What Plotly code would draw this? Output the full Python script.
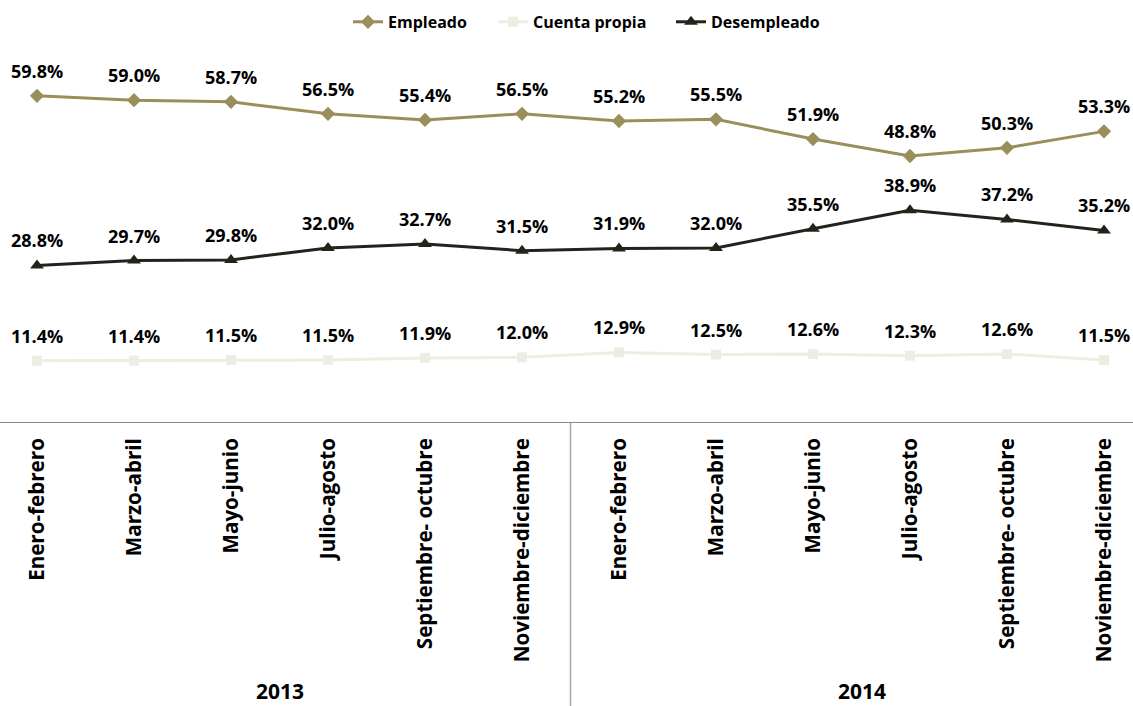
import plotly.graph_objects as go

categories = ["Enero-febrero", "Marzo-abril", "Mayo-junio", "Julio-agosto",
              "Septiembre- octubre", "Noviembre-diciembre",
              "Enero-febrero", "Marzo-abril", "Mayo-junio", "Julio-agosto",
              "Septiembre- octubre", "Noviembre-diciembre"]
years = ["2013", "2014"]
year_centers = [2.5, 8.5]
empleado = [59.8, 59.0, 58.7, 56.5, 55.4, 56.5, 55.2, 55.5, 51.9, 48.8, 50.3, 53.3]
cuenta_propia = [11.4, 11.4, 11.5, 11.5, 11.9, 12.0, 12.9, 12.5, 12.6, 12.3, 12.6, 11.5]
desempleado = [28.8, 29.7, 29.8, 32.0, 32.7, 31.5, 31.9, 32.0, 35.5, 38.9, 37.2, 35.2]

FONT = "Open Sans"
x = list(range(len(categories)))

series = [
    ("Empleado", empleado, "#9A8F5B", "diamond", 11, "legend", 348),
    ("Cuenta propia", cuenta_propia, "#EEEDE2", "square", 10, "legend2", 493),
    ("Desempleado", desempleado, "#24221A", "triangle-up", 12, "legend3", 671),
]

fig = go.Figure()
legends = {}
for name, vals, color, sym, size, leg, lx in series:
    fig.add_trace(go.Scatter(
        x=x, y=vals, name=name, mode="lines+markers",
        line=dict(color=color, width=3),
        marker=dict(symbol=sym, size=size, color=color),
        legend=leg,
    ))
    legends[leg] = dict(orientation="h", x=lx / 1133, xanchor="left", y=0.969,
                        yanchor="middle", yref="container",
                        font=dict(family=FONT, size=16, color="#000", weight="bold"))

annotations = []
for name, vals, color, sym, size, leg, lx in series:
    for xi, v in zip(x, vals):
        annotations.append(dict(
            x=xi, y=v, xref="x", yref="y", text=f"{v:.1f}%",
            showarrow=False, yshift=25,
            font=dict(family=FONT, size=18, color="#000000", weight="bold"),
        ))
for yc, yr in zip(year_centers, years):
    annotations.append(dict(x=yc, y=-0.70, xref="x", yref="paper", yanchor="middle",
                            text=yr, showarrow=False, borderpad=0,
                            font=dict(family=FONT, size=21, color="#000", weight="bold")))

fig.update_layout(
    width=1133, height=706,
    margin=dict(l=0, r=0, t=40, b=283, autoexpand=False),
    paper_bgcolor="white", plot_bgcolor="white",
    showlegend=True,
    xaxis=dict(
        range=[-0.3814, 11.299], tickmode="array", tickvals=x, ticktext=categories,
        tickangle=-90, showgrid=False, zeroline=False, showline=False, ticks="",
        automargin=False, ticklabelstandoff=10,
        tickfont=dict(family=FONT, size=20.6, color="#000", weight="bold"),
    ),
    yaxis=dict(range=[0, 70], visible=False, showgrid=False, zeroline=False, automargin=False),
    annotations=annotations,
    font=dict(family=FONT),
    **legends,
)

# axis line and year separator
fig.add_shape(type="line", xref="paper", yref="y", x0=0, x1=1, y0=0, y1=0,
              line=dict(color="#898989", width=2))
fig.add_shape(type="line", xref="x", yref="paper", x0=5.5, x1=5.5, y0=0, y1=-0.74,
              line=dict(color="#A6A6A6", width=1.5))

fig.write_html("out.html", config={"displayModeBar": False},
               post_script="document.body.style.margin='0';document.body.style.overflow='hidden';")
